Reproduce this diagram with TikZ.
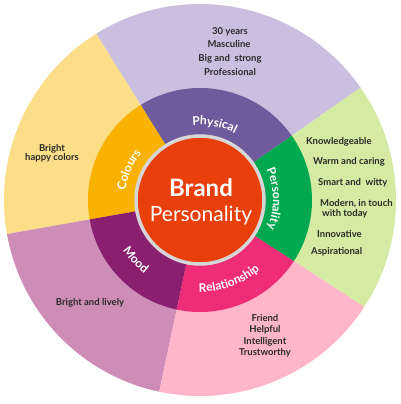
\documentclass[tikz,border=0pt]{standalone}
\usepackage{fontspec}
\setmainfont{Lato}
\usetikzlibrary{decorations.text}
\definecolor{lavout}{HTML}{CABFDF}
\definecolor{physin}{HTML}{6E5A9D}
\definecolor{greenout}{HTML}{D5EAA2}
\definecolor{greenin}{HTML}{00A94F}
\definecolor{pinkout}{HTML}{FFB5CA}
\definecolor{pinkin}{HTML}{EE2D76}
\definecolor{mauveout}{HTML}{CE8DB6}
\definecolor{moodin}{HTML}{8A1F70}
\definecolor{yellowout}{HTML}{FCDD88}
\definecolor{orangein}{HTML}{F9B200}
\definecolor{brandred}{HTML}{E83F0B}
\definecolor{rimgray}{HTML}{D6D6D6}
\definecolor{txtgray}{HTML}{2A2A2A}
\newcommand\arcfont{\fontsize{12}{14}\selectfont\bfseries}
\tikzset{
  outtxt/.style={font=\fontsize{9.5}{11}\selectfont\bfseries, text=txtgray, inner sep=0pt},
  arclabel/.style={decorate, decoration={text along path, text align=center,
      text color=white, text={|\arcfont|#1}}},
}
\begin{document}
\begin{tikzpicture}[x=1pt,y=1pt]
\useasboundingbox (-200,-204) rectangle (200,200);
% outer sectors
\fill[lavout]    (0,0) -- (35:196)  arc[start angle=35,  end angle=122, radius=196] -- cycle;
\fill[yellowout] (0,0) -- (122:196) arc[start angle=122, end angle=190, radius=196] -- cycle;
\fill[mauveout]  (0,0) -- (190:196) arc[start angle=190, end angle=258, radius=196] -- cycle;
\fill[pinkout]   (0,0) -- (258:196) arc[start angle=258, end angle=327, radius=196] -- cycle;
\fill[greenout]  (0,0) -- (327:196) arc[start angle=327, end angle=395, radius=196] -- cycle;
% inner sectors
\fill[physin]    (0,0) -- (35:112)  arc[start angle=35,  end angle=122, radius=112] -- cycle;
\fill[orangein]  (0,0) -- (122:112) arc[start angle=122, end angle=190, radius=112] -- cycle;
\fill[moodin]    (0,0) -- (190:112) arc[start angle=190, end angle=258, radius=112] -- cycle;
\fill[pinkin]    (0,0) -- (258:112) arc[start angle=258, end angle=327, radius=112] -- cycle;
\fill[greenin]   (0,0) -- (327:112) arc[start angle=327, end angle=395, radius=112] -- cycle;
% centre
\fill[brandred] (0,0) circle[radius=64];
\draw[rimgray, line width=3.5pt] (0,0) circle[radius=64];
\node[font=\fontsize{24}{26}\selectfont\bfseries, text=white, anchor=base, inner sep=0pt] (brand) at (1,3) {Brand};
\node[font=\fontsize{21}{24}\selectfont, text=white, anchor=base, inner sep=0pt] (pers) at (1,-21) {Personality};
% ring labels
\path[arclabel=Physical]     (112:75) arc[start angle=112, end angle=46, radius=75];
\path[arclabel=Personality]  (42:73)  arc[start angle=42,  end angle=-40, radius=73];
\path[arclabel=Colours]      (192:75) arc[start angle=192, end angle=122, radius=75];
\path[arclabel=Mood]         (190:92) arc[start angle=190, end angle=256, radius=92];
\path[arclabel=Relationship] (250:92) arc[start angle=250, end angle=330, radius=92];
% physical texts
\node[outtxt, anchor=base] (p1) at (30,165.5) {30 years};
\node[outtxt, anchor=base] (p2) at (29,152.5) {Masculine};
\node[outtxt, anchor=base] (p3) at (30,138.5) {Big and\ \ strong};
\node[outtxt, anchor=base] (p4) at (30,124.5) {Professional};
% personality texts
\node[outtxt, anchor=base west] (q1) at (106,55.5) {Knowledgeable};
\node[outtxt, anchor=base west] (q2) at (113,35.5) {Warm and caring};
\node[outtxt, anchor=base west] (q3) at (118,14.5) {Smart and\ \ witty};
\node[outtxt, anchor=base west] (q4) at (120,-6.5) {Modern, in touch};
\node[outtxt, anchor=base west] (q5) at (122,-16.5) {with today};
\node[outtxt, anchor=base west] (q6) at (117,-37.5) {Innovative};
\node[outtxt, anchor=base west] (q7) at (111,-54.5) {Aspirational};
% colours texts
\node[outtxt, anchor=base] (c1) at (-148,48.5) {Bright};
\node[outtxt, anchor=base] (c2) at (-148,39.5) {happy colors};
% mood text
\node[outtxt, anchor=base] (m1) at (-110,-105.5) {Bright and lively};
% relationship texts
\node[outtxt, anchor=base] (r1) at (65,-121.5) {Friend};
\node[outtxt, anchor=base] (r2) at (65,-132.5) {Helpful};
\node[outtxt, anchor=base] (r3) at (65,-144.5) {Intelligent};
\node[outtxt, anchor=base] (r4) at (65,-155.5) {Trustworthy};
\end{tikzpicture}
\end{document}
